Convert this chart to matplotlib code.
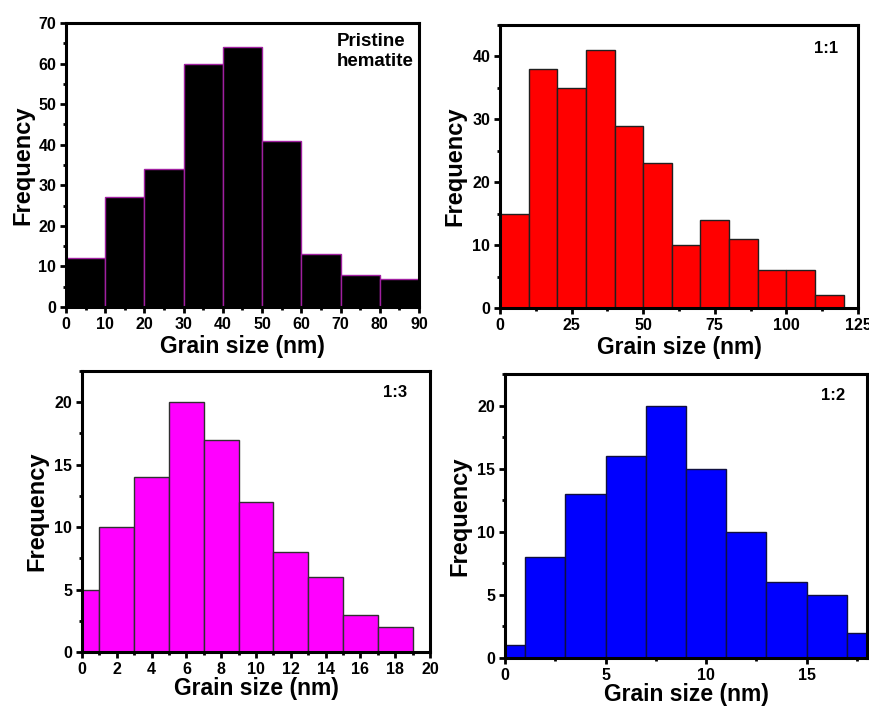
import matplotlib
matplotlib.use("Agg")
import matplotlib.pyplot as plt
import numpy as np
from matplotlib.ticker import MultipleLocator

plt.rcParams['font.family'] = ['Liberation Sans', 'DejaVu Sans']
plt.rcParams['font.weight'] = 'bold'

# Pristine hematite: 10 nm bins from 0 to 90
pristine_edges = [0, 10, 20, 30, 40, 50, 60, 70, 80, 90]
pristine_counts = [12, 27, 34, 60, 64, 41, 13, 8, 7]

# 1:1 sample: 10 nm bins from 0 to 120
r11_edges = [0, 10, 20, 30, 40, 50, 60, 70, 80, 90, 100, 110, 120]
r11_counts = [15, 38, 35, 41, 29, 23, 10, 14, 11, 6, 6, 2]

# 1:3 sample: 2 nm bins centred on even sizes
r13_edges = [-1, 1, 3, 5, 7, 9, 11, 13, 15, 17, 19]
r13_counts = [5, 10, 14, 20, 17, 12, 8, 6, 3, 2]

# 1:2 sample: 2 nm bins centred on even sizes
r12_edges = [-1, 1, 3, 5, 7, 9, 11, 13, 15, 17, 19]
r12_counts = [1, 8, 13, 16, 20, 15, 10, 6, 5, 2]

W, H = 870, 706
fig = plt.figure(figsize=(W / 100, H / 100), dpi=100)


def box(l, t, r, b):
    return [l / W, (H - b) / H, (r - l) / W, (b - t) / H]


def panel(rect, edges, counts, face, edge, xlim, ylim, xmaj, xmin, ymaj, ymin,
          label, label_pos, label_size, label_ha='right', xlabelpad=2,
          ylabelpad=4):
    ax = fig.add_axes(rect)
    edges = np.asarray(edges, dtype=float)
    ax.bar(edges[:-1], counts, width=np.diff(edges), align='edge',
           color=face, edgecolor=edge, linewidth=1.0, zorder=2)
    ax.set_xlim(*xlim)
    ax.set_ylim(*ylim)
    ax.xaxis.set_major_locator(MultipleLocator(xmaj))
    ax.xaxis.set_minor_locator(MultipleLocator(xmin))
    ax.yaxis.set_major_locator(MultipleLocator(ymaj))
    ax.yaxis.set_minor_locator(MultipleLocator(ymin))
    for s in ax.spines.values():
        s.set_linewidth(2.2)
        s.set_zorder(3)
    ax.tick_params(which='major', direction='out', length=4, width=2,
                   labelsize=11.5, pad=3)
    ax.tick_params(which='minor', direction='out', length=2.5, width=2)
    for t in ax.get_xticklabels() + ax.get_yticklabels():
        t.set_fontweight('bold')
    ax.set_xlabel('Grain size (nm)', fontsize=16.5, fontweight='bold',
                  labelpad=xlabelpad)
    ax.set_ylabel('Frequency', fontsize=17, fontweight='bold',
                  labelpad=ylabelpad)
    ax.text(label_pos[0], label_pos[1], label, transform=ax.transAxes,
            ha=label_ha, va='top', multialignment='left',
            fontsize=label_size, fontweight='bold', linespacing=1.2)
    return ax


panel(box(66, 23, 419, 307), pristine_edges, pristine_counts, 'black', '#a020a0',
      (0, 90), (0, 70), 10, 5, 10, 5, 'Pristine\nhematite', (0.768, 0.965), 13.5,
      label_ha='left', ylabelpad=3)
panel(box(500, 25, 858, 308), r11_edges, r11_counts, '#ff0000', '#202020',
      (0, 125), (0, 45), 25, 12.5, 10, 5, '1:1', (0.945, 0.945), 12)
panel(box(82, 371, 430, 652), r13_edges, r13_counts, '#ff00ff', '#303030',
      (0, 20), (0, 22.5), 2, 1, 5, 2.5, '1:3', (0.935, 0.95), 12,
      xlabelpad=0)
panel(box(505, 374, 867, 658), r12_edges, r12_counts, '#0000ff', '#101040',
      (0, 18), (0, 22.5), 5, 2.5, 5, 2.5, '1:2', (0.94, 0.95), 12,
      xlabelpad=0)

fig.savefig('out.png', dpi=100)
